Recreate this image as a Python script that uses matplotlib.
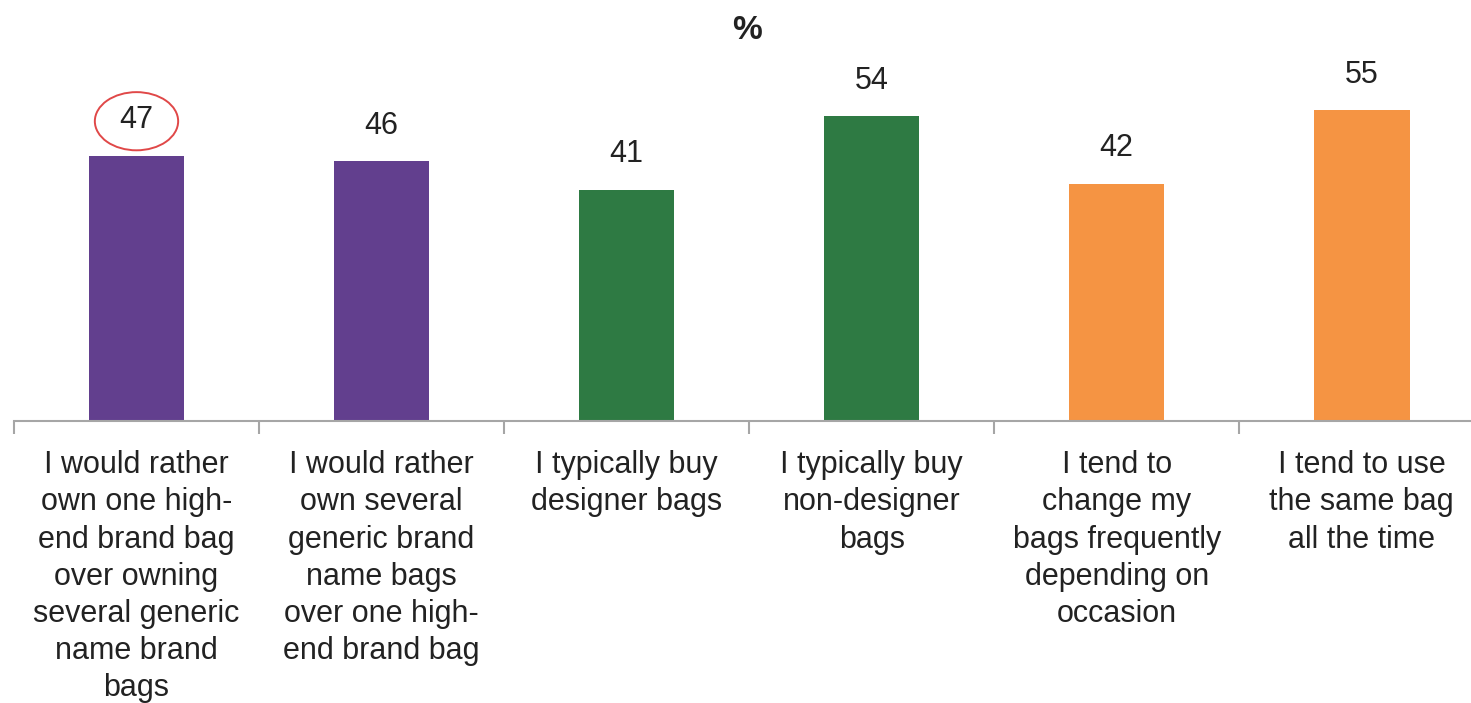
import matplotlib.pyplot as plt
from matplotlib.patches import Ellipse
import numpy as np

# ─── Data ─────────────────────────────────────────────────────────────────────
categories = [
    "I would rather\nown one high-\nend brand bag\nover owning\nseveral generic\nname brand\nbags",
    "I would rather\nown several\ngeneric brand\nname bags\nover one high-\nend brand bag",
    "I typically buy\ndesigner bags",
    "I typically buy\nnon-designer\nbags",
    "I tend to\nchange my\nbags frequently\ndepending on\noccasion",
    "I tend to use\nthe same bag\nall the time",
]
values = [47, 46, 41, 54, 42, 55]
colors = ['#623f8e', '#623f8e', '#2e7a43', '#2e7a43', '#f59443', '#f59443']

plt.rcParams['font.family'] = ['Liberation Sans', 'DejaVu Sans']

fig = plt.figure(figsize=(14.71, 7.03), dpi=100)
ax = fig.add_axes([0.0095, 0.401, 0.9995, 0.482])

x = np.arange(len(values))
ax.bar(x, values, width=0.39, color=colors)

for xi, v in zip(x, values):
    ax.annotate(str(v), (xi, v), xytext=(0, 25.5), textcoords='offset points',
                ha='center', va='center', fontsize=22, color='#222222')

# red circle around first value
ax.add_patch(Ellipse((x[0], values[0] + 6.1), 0.34, 10.3, fill=False,
                     edgecolor='#e04848', lw=1.4))

ax.set_xlim(-0.5, len(values) - 0.5)
ax.set_ylim(0, 60)
ax.set_yticks([])
for s in ['left', 'right', 'top']:
    ax.spines[s].set_visible(False)
ax.spines['bottom'].set_color('#a6a6a6')
ax.spines['bottom'].set_linewidth(1.5)

ax.set_xticks(x)
ax.set_xticklabels(categories, fontsize=22, linespacing=1.31, color='#222222', va='top')
ax.tick_params(axis='x', which='major', length=0, pad=21)
ax.set_xticks(np.arange(len(values)) - 0.5, minor=True)
ax.tick_params(axis='x', which='minor', length=9, width=1.5, color='#a6a6a6')

fig.text(0.508, 0.957, "%", ha='center', va='center', fontsize=24, fontweight='bold',
         color='#222222')

plt.savefig("out.png", dpi=100)
